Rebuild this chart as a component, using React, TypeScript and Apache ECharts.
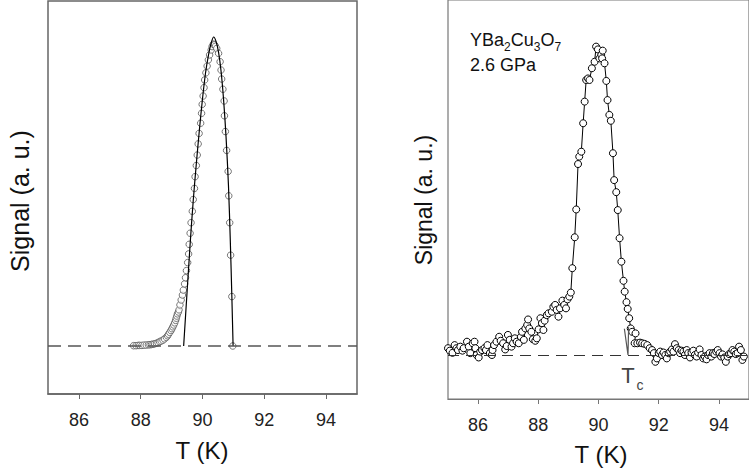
import React, { useEffect, useRef } from 'react';
import * as echarts from 'echarts';

const FONT = '"Liberation Sans", Arial, Helvetica, sans-serif';

// x tick labels (both panels)
const xTicks = [86, 88, 90, 92, 94];

// Left panel: measured points (open circles)
const leftCircleT = [
  87.77, 87.85, 87.92, 87.97, 88.04, 88.11, 88.18, 88.25, 88.30, 88.35, 88.40, 88.45, 88.51, 88.56,
  88.61, 88.66, 88.72, 88.77, 88.83, 88.87, 88.90, 88.94, 88.98, 89.01, 89.04, 89.07, 89.10, 89.13,
  89.15, 89.17, 89.19, 89.22, 89.24, 89.27, 89.31, 89.35, 89.38, 89.42, 89.45, 89.48, 89.52, 89.55,
  89.57, 89.60, 89.63, 89.67, 89.70, 89.74, 89.76, 89.80, 89.83, 89.86, 89.89, 89.94, 89.97, 89.99,
  90.02, 90.05, 90.07, 90.11, 90.15, 90.19, 90.23, 90.28, 90.31, 90.35, 90.39, 90.42, 90.46, 90.52,
  90.57, 90.60, 90.62, 90.66, 90.70, 90.71, 90.74, 90.78, 90.83, 90.85, 90.88, 90.91, 90.95, 90.98,
];
const leftCircleSignal = [
  0.001, 0.001, 0.002, 0.002, 0.002, 0.003, 0.003, 0.004, 0.004, 0.005, 0.006, 0.007, 0.009, 0.011,
  0.014, 0.016, 0.019, 0.023, 0.028, 0.033, 0.038, 0.044, 0.050, 0.056, 0.062, 0.068, 0.075, 0.083,
  0.090, 0.097, 0.104, 0.110, 0.117, 0.133, 0.149, 0.165, 0.181, 0.201, 0.221, 0.244, 0.270, 0.298,
  0.329, 0.365, 0.399, 0.436, 0.474, 0.510, 0.548, 0.584, 0.618, 0.654, 0.688, 0.721, 0.753, 0.782,
  0.809, 0.836, 0.861, 0.884, 0.906, 0.926, 0.942, 0.958, 0.969, 0.977, 0.975, 0.970, 0.963, 0.947,
  0.920, 0.893, 0.864, 0.831, 0.793, 0.745, 0.694, 0.633, 0.565, 0.486, 0.399, 0.294, 0.160, 0.000,
];

// Left panel: fitted curve (solid line)
const leftFitT = [89.39, 89.60, 89.70, 89.80, 89.90, 90.00, 90.10, 90.20, 90.28, 90.36, 90.44, 90.52, 90.60, 90.68, 90.76, 90.84, 90.90, 90.95, 90.99];
const leftFitSignal = [0.0, 0.33, 0.47, 0.59, 0.70, 0.80, 0.885, 0.945, 0.98, 1.0, 0.985, 0.95, 0.89, 0.80, 0.68, 0.52, 0.34, 0.16, 0.0];

// Right panel: YBa2Cu3O7 at 2.6 GPa
const rightT = [
  85.00, 85.06, 85.15, 85.22, 85.28, 85.33, 85.41, 85.48, 85.52, 85.63, 85.69, 85.74, 85.82, 85.88,
  85.91, 85.95, 86.02, 86.07, 86.13, 86.21, 86.26, 86.31, 86.39, 86.46, 86.48, 86.53, 86.61, 86.70,
  86.75, 86.83, 86.90, 86.95, 86.99, 87.05, 87.11, 87.16, 87.22, 87.28, 87.35, 87.42, 87.46, 87.52,
  87.57, 87.63, 87.66, 87.70, 87.77, 87.82, 87.90, 87.95, 88.01, 88.07, 88.12, 88.17, 88.21, 88.28,
  88.34, 88.45, 88.50, 88.56, 88.61, 88.67, 88.72, 88.80, 88.86, 88.92, 88.97, 89.03, 89.08, 89.13,
  89.21, 89.26, 89.32, 89.36, 89.43, 89.49, 89.54, 89.59, 89.65, 89.70, 89.78, 89.87, 89.92, 89.98,
  90.03, 90.09, 90.14, 90.12, 90.20, 90.26, 90.30, 90.36, 90.41, 90.48, 90.52, 90.59, 90.64, 90.70,
  90.76, 90.83, 90.87, 90.93, 90.97, 91.02, 91.07, 91.12, 91.23, 91.20, 91.29, 91.38, 91.45, 91.53,
  91.62, 91.70, 91.78, 91.84, 91.89, 91.94, 92.00, 92.05, 92.11, 92.16, 92.22, 92.27, 92.33, 92.38,
  92.44, 92.49, 92.54, 92.60, 92.66, 92.71, 92.76, 92.82, 92.87, 92.93, 92.98, 93.04, 93.09, 93.15,
  93.20, 93.26, 93.31, 93.36, 93.42, 93.48, 93.53, 93.59, 93.64, 93.69, 93.75, 93.80, 93.85, 93.91,
  93.96, 94.02, 94.07, 94.12, 94.18, 94.23, 94.29, 94.34, 94.40, 94.45, 94.51, 94.56, 94.62, 94.67,
  94.73, 94.78, 94.83,
];
const rightSignal = [
  0.022, 0.014, 0.007, 0.032, 0.022, 0.016, 0.027, 0.014, 0.022, 0.043, 0.027, 0.006, 0.038, 0.043,
  0.022, 0.000, -0.008, 0.011, 0.016, 0.022, 0.016, 0.032, 0.006, 0.000, 0.016, 0.032, 0.043, 0.059,
  0.046, 0.038, 0.018, 0.029, 0.065, 0.049, 0.027, 0.038, 0.054, 0.043, 0.038, 0.059, 0.075, 0.049,
  0.086, 0.097, 0.115, 0.086, 0.075, 0.051, 0.046, 0.054, 0.083, 0.119, 0.103, 0.081, 0.111, 0.129,
  0.135, 0.140, 0.156, 0.162, 0.146, 0.124, 0.151, 0.176, 0.162, 0.151, 0.180, 0.189, 0.202, 0.281,
  0.381, 0.471, 0.618, 0.642, 0.658, 0.750, 0.820, 0.890, 0.895, 0.890, 0.928, 0.949, 0.998, 0.989,
  0.960, 0.971, 0.985, 0.960, 0.944, 0.887, 0.825, 0.777, 0.758, 0.653, 0.566, 0.527, 0.469, 0.378,
  0.302, 0.240, 0.205, 0.171, 0.149, 0.119, 0.086, 0.075, 0.070, 0.038, 0.038, 0.040, 0.038, 0.036,
  0.032, 0.022, 0.016, 0.006, -0.022, -0.011, 0.006, 0.011, 0.000, 0.008, 0.000, -0.011, 0.006, 0.011,
  0.018, 0.011, 0.035, 0.022, 0.016, 0.006, 0.014, 0.011, 0.000, 0.016, 0.006, -0.008, 0.008, 0.014,
  0.000, -0.005, 0.008, 0.018, 0.000, -0.011, -0.005, -0.014, 0.000, 0.006, -0.005, 0.006, 0.003, 0.011,
  0.016, 0.006, -0.005, 0.002, -0.008, -0.022, -0.005, 0.003, 0.006, 0.016, 0.011, 0.003, 0.006, 0.027,
  0.016, -0.016, -0.005,
];

// Tc arrow (annotation in data units)
const arrowT = [90.86, 90.98, 91.0];
const arrowSignal = [0.085, 0.0, 0.09];

const zip = (a: number[], b: number[]) => a.map((x, i) => [x, b[i]]);

function xAxisCfg(gridIndex: number, color: string, lw: number) {
  return {
    gridIndex,
    type: 'value',
    min: 85,
    max: 95,
    axisLine: { show: true, onZero: false, lineStyle: { color, width: lw } },
    axisTick: { show: true, customValues: xTicks, length: 5, inside: false, lineStyle: { color, width: 1 } },
    axisLabel: { customValues: xTicks, margin: 17, fontSize: 18, color: '#222', fontFamily: FONT },
    splitLine: { show: false },
  };
}

export default function App() {
  const ref = useRef<HTMLDivElement>(null);
  useEffect(() => {
    if (!ref.current) return;
    const chart = echarts.init(ref.current, undefined, { renderer: 'svg' });
    const option: any = {
      animation: false,
      backgroundColor: '#fff',
      grid: [
        { left: 48, top: 1, width: 309, height: 393, show: true, borderColor: '#666', borderWidth: 1.5 },
        { left: 448, top: 0, width: 305, height: 399, show: true, borderColor: '#777', borderWidth: 1.2 },
      ],
      xAxis: [xAxisCfg(0, '#666', 1.5), xAxisCfg(1, '#777', 1.2)],
      yAxis: [
        { gridIndex: 0, type: 'value', min: -0.1553, max: 1.1165, show: false },
        { gridIndex: 1, type: 'value', min: -0.1424, max: 1.1489, show: false },
      ],
      series: [
        {
          type: 'scatter',
          xAxisIndex: 0,
          yAxisIndex: 0,
          data: zip(leftCircleT, leftCircleSignal),
          symbol: 'circle',
          symbolSize: 6.5,
          itemStyle: { color: '#fff', borderColor: '#555', borderWidth: 1 },
          z: 2,
          markLine: {
            silent: true,
            symbol: 'none',
            label: { show: false },
            lineStyle: { type: [13, 7], color: '#555', width: 1.5 },
            data: [{ yAxis: 0 }],
          },
        },
        {
          type: 'line',
          xAxisIndex: 0,
          yAxisIndex: 0,
          data: zip(leftFitT, leftFitSignal),
          showSymbol: false,
          smooth: 0.3,
          lineStyle: { color: '#000', width: 1.2 },
          z: 3,
        },
        {
          type: 'line',
          xAxisIndex: 1,
          yAxisIndex: 1,
          data: zip(rightT, rightSignal),
          symbol: 'circle',
          symbolSize: 7,
          itemStyle: { color: '#fff', borderColor: '#000', borderWidth: 1 },
          lineStyle: { color: '#000', width: 1 },
          z: 3,
          markLine: {
            silent: true,
            symbol: 'none',
            label: { show: false },
            lineStyle: { type: [11, 7], color: '#333', width: 1 },
            data: [{ yAxis: 0 }],
          },
        },
        {
          type: 'line',
          xAxisIndex: 1,
          yAxisIndex: 1,
          data: zip(arrowT, arrowSignal),
          showSymbol: false,
          lineStyle: { color: '#555', width: 1.2 },
          z: 4,
        },
      ],
      graphic: [
        { type: 'text', x: 20, y: 201, rotation: Math.PI / 2, style: { text: 'Signal (a. u.)', fontSize: 25, fontFamily: FONT, fill: '#111', align: 'center', verticalAlign: 'middle' } },
        { type: 'text', x: 424, y: 200, rotation: Math.PI / 2, style: { text: 'Signal (a. u.)', fontSize: 23, fontFamily: FONT, fill: '#111', align: 'center', verticalAlign: 'middle' } },
        { type: 'text', x: 202, y: 450, style: { text: 'T (K)', fontSize: 24, fontFamily: FONT, fill: '#111', align: 'center', verticalAlign: 'middle' } },
        { type: 'text', x: 601, y: 454, style: { text: 'T (K)', fontSize: 24, fontFamily: FONT, fill: '#111', align: 'center', verticalAlign: 'middle' } },
        {
          type: 'text', x: 470, y: 40,
          style: {
            text: '{n|YBa}{s|2}{n|Cu}{s|3}{n|O}{s|7}',
            fontFamily: FONT, fill: '#111', align: 'left', verticalAlign: 'middle',
            rich: {
              n: { fontSize: 18, lineHeight: 26, verticalAlign: 'middle', fontFamily: FONT, fill: '#111' },
              s: { fontSize: 12, lineHeight: 26, verticalAlign: 'bottom', fontFamily: FONT, fill: '#111' },
            },
          },
        },
        { type: 'text', x: 470, y: 65, style: { text: '2.6 GPa', fontSize: 18, fontFamily: FONT, fill: '#111', align: 'left', verticalAlign: 'middle' } },
        { type: 'text', x: 628, y: 375, style: { text: 'T', fontSize: 22, fontFamily: FONT, fill: '#444', align: 'center', verticalAlign: 'middle' } },
        { type: 'text', x: 640, y: 385, style: { text: 'c', fontSize: 14, fontFamily: FONT, fill: '#444', align: 'center', verticalAlign: 'middle' } },
      ],
    };
    chart.setOption(option);
    return () => chart.dispose();
  }, []);
  return <div ref={ref} style={{ position: 'absolute', left: 0, top: 0, width: 749, height: 471 }} />;
}
